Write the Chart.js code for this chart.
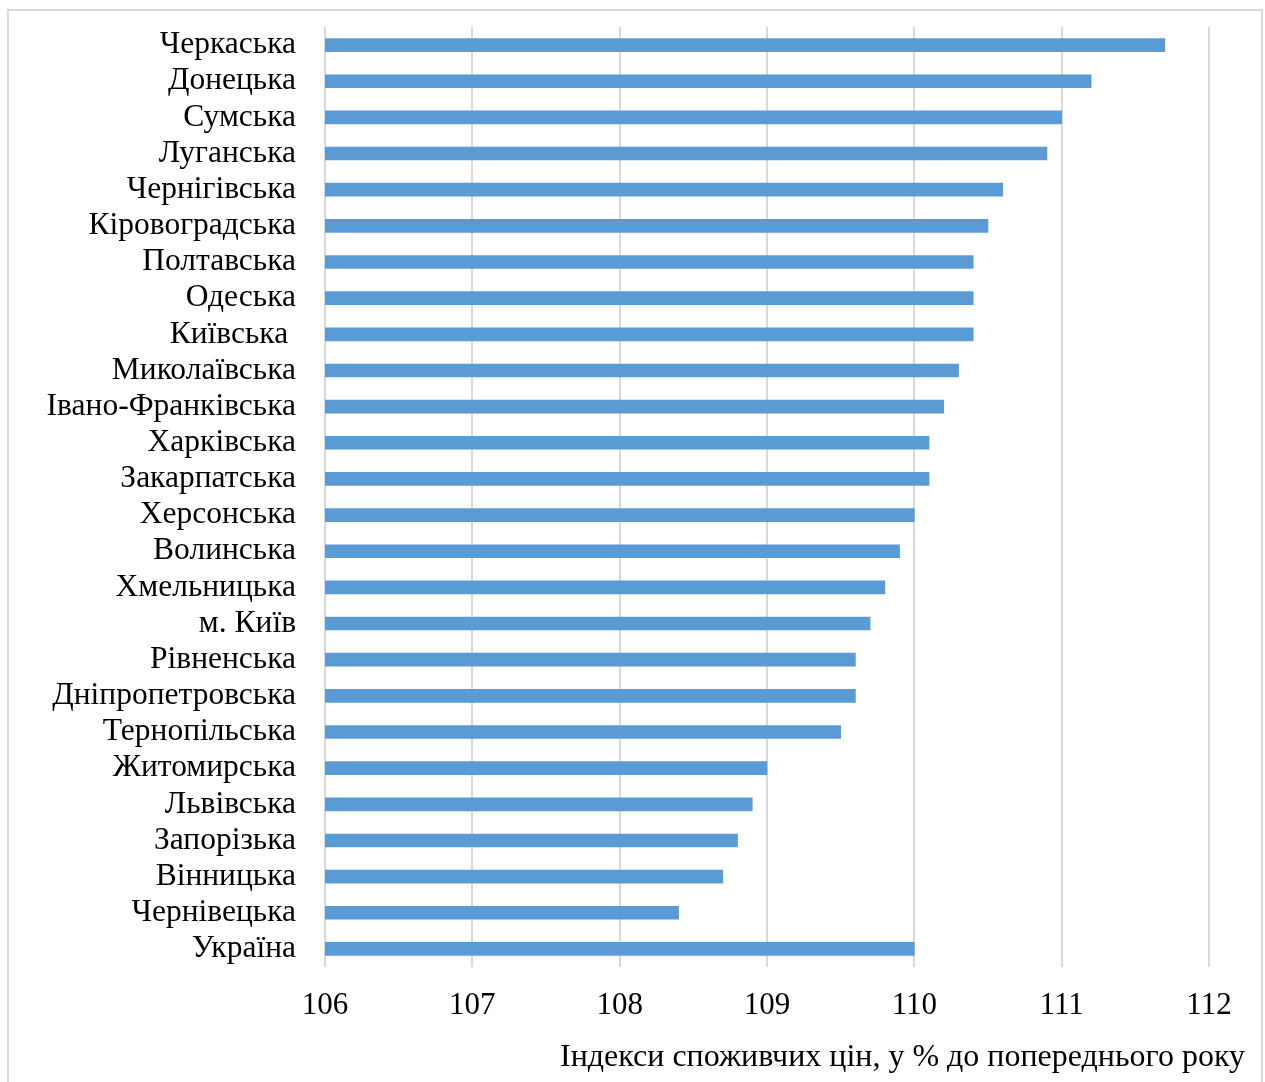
<!DOCTYPE html>
<html>
<head>
<meta charset="utf-8">
<script src="https://cdn.jsdelivr.net/npm/chart.js@4"></script>
<style>
html,body{margin:0;padding:0;background:#fff;}
canvas{display:block;}
</style>
</head>
<body>
<canvas id="c" width="1265" height="1082"></canvas>
<script>
const categories = [
  "Черкаська","Донецька","Сумська","Луганська","Чернігівська","Кіровоградська",
  "Полтавська","Одеська","Київська ","Миколаївська","Івано-Франківська","Харківська",
  "Закарпатська","Херсонська","Волинська","Хмельницька","м. Київ","Рівненська",
  "Дніпропетровська","Тернопільська","Житомирська","Львівська","Запорізька",
  "Вінницька","Чернівецька","Україна"
];
const cpiValues = [
  111.7,111.2,111.0,110.9,110.6,110.5,
  110.4,110.4,110.4,110.3,110.2,110.1,
  110.1,110.0,109.9,109.8,109.7,109.6,
  109.6,109.5,109.0,108.9,108.8,
  108.7,108.4,110.0
];
const axisMin = 106;
const axisMax = 112;
const axisStep = 1;
const axisTitle = "Індекси споживчих цін, у % до попереднього року";

const FONT = "'Liberation Serif','Times New Roman',serif";

const frame = {
  id: 'frame',
  beforeDraw(chart) {
    const ctx = chart.ctx;
    ctx.save();
    ctx.fillStyle = '#fff';
    ctx.fillRect(0, 0, chart.width, chart.height);
    ctx.strokeStyle = '#d9d9d9';
    ctx.lineWidth = 2;
    ctx.strokeRect(8, 10, 1254, 1080);
    ctx.restore();
  }
};

new Chart(document.getElementById('c'), {
  type: 'bar',
  data: {
    labels: categories,
    datasets: [{
      data: cpiValues,
      backgroundColor: '#5B9BD5',
      borderWidth: 0,
      barThickness: 13,
      xAxisID: 'x',
      yAxisID: 'y'
    }]
  },
  options: {
    indexAxis: 'y',
    responsive: false,
    animation: false,
    devicePixelRatio: 1,
    layout: { padding: { left: 0, right: 20, top: 27, bottom: 5 } },
    plugins: {
      legend: { display: false },
      tooltip: { enabled: false },
      title: {
        display: true,
        text: axisTitle,
        position: 'bottom',
        align: 'end',
        color: '#000',
        font: { family: FONT, size: 32, weight: 'normal', lineHeight: 1.2 },
        padding: { top: 0, bottom: 0 }
      }
    },
    scales: {
      x: {
        type: 'linear',
        position: 'bottom',
        min: axisMin,
        max: axisMax,
        ticks: {
          stepSize: axisStep,
          color: '#000',
          padding: 20,
          font: { family: FONT, size: 31 }
        },
        grid: { color: '#d9d9d9', lineWidth: 2, drawTicks: false },
        border: { display: false },
        afterFit(s) { s.height = 1082 - 5 - 38.4 - 967; s.paddingLeft = 0; s.paddingRight = 0; }
      },
      y: {
        type: 'category',
        position: 'left',
        ticks: {
          color: '#000',
          padding: 29,
          autoSkip: false,
          font: { family: FONT, size: 31.5 }
        },
        grid: { display: false, drawTicks: false },
        border: { display: false },
        afterFit(s) { s.width = 325; s.paddingTop = 0; s.paddingBottom = 0; }
      },
      y2: {
        type: 'category',
        axis: 'y',
        position: 'right',
        labels: categories,
        ticks: { display: false },
        grid: { display: false, drawTicks: false },
        border: { display: false },
        afterFit(s) { s.width = 36; s.paddingTop = 0; s.paddingBottom = 0; }
      }
    }
  },
  plugins: [frame]
});
</script>
</body>
</html>
